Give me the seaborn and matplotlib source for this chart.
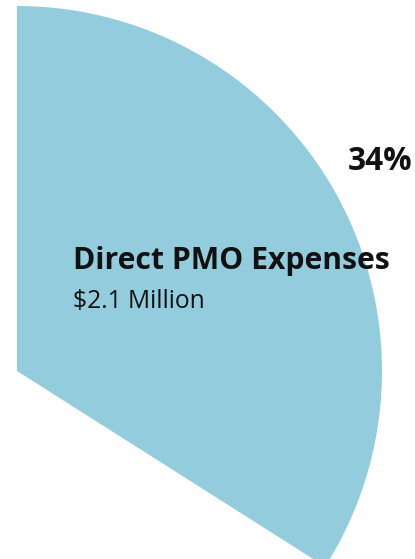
import matplotlib
matplotlib.use("Agg")
import matplotlib.pyplot as plt
import seaborn as sns

# Share of total spend shown as a single pie slice
categories = ["Direct PMO Expenses", "Other"]
shares = [34, 66]
amounts_millions = [2.1]

sns.set_theme(style="white")
plt.rcParams["font.family"] = ["Open Sans", "DejaVu Sans"]

slice_color = "#93CDDD"

fig = plt.figure(figsize=(4.15, 5.59), dpi=100)
ax = fig.add_axes([0, 0, 1, 1])

ax.pie(
    shares,
    colors=[slice_color, "none"],
    startangle=90,
    counterclock=False,
    center=(17, 188),
    radius=365,
    wedgeprops=dict(linewidth=0),
)
ax.set_xlim(0, 415)
ax.set_ylim(0, 559)
ax.set_aspect("equal")
ax.axis("off")

ax.text(73, 290, categories[0], fontsize=21.7, fontweight="bold",
        color="#111111", ha="left", va="baseline")
ax.text(73, 251, f"${amounts_millions[0]:.1f} Million", fontsize=17.7,
        color="#111111", ha="left", va="baseline")
ax.text(348, 389, f"{shares[0]}%", fontsize=22.7, fontweight="bold",
        color="#111111", ha="left", va="baseline")

fig.savefig("out.png", dpi=100)
